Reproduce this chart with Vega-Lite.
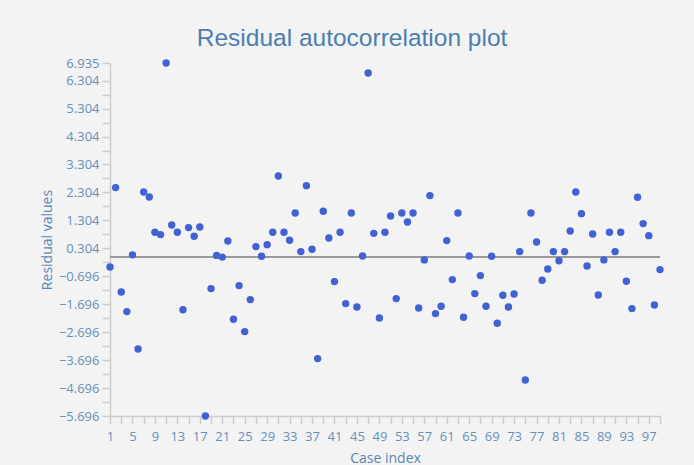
{
  "$schema": "https://vega.github.io/schema/vega-lite/v6.json",
  "autosize": "none",
  "width": 550,
  "height": 353,
  "padding": {"left": 110, "top": 63, "right": 34, "bottom": 49},
  "background": "#f3f3f3",
  "title": {
    "text": "Residual autocorrelation plot",
    "font": "Liberation Sans",
    "fontSize": 24.5,
    "fontWeight": "normal",
    "color": "#4a7fb0",
    "anchor": "middle",
    "frame": "bounds",
    "offset": 6
  },
  "config": {
    "view": {"stroke": null},
    "axis": {
      "labelFont": "Open Sans",
      "labelFontSize": 13,
      "labelColor": "#6690b8",
      "titleFont": "Open Sans",
      "titleFontSize": 14,
      "titleFontWeight": "normal",
      "titleColor": "#5a88b4",
      "domainColor": "#cccccc",
      "domainWidth": 1.5,
      "tickColor": "#cccccc",
      "tickWidth": 1.5,
      "tickSize": 8,
      "grid": false,
      "labelOverlap": false
    }
  },
  "resolve": {"axis": {"y": "independent"}},
  "data": {
    "values": [
      {"idx": 1, "res": -0.365}, {"idx": 2, "res": 2.476}, {"idx": 3, "res": -1.259}, {"idx": 4, "res": -1.961},
      {"idx": 5, "res": 0.07}, {"idx": 6, "res": -3.299}, {"idx": 7, "res": 2.318}, {"idx": 8, "res": 2.14},
      {"idx": 9, "res": 0.876}, {"idx": 10, "res": 0.794}, {"idx": 11, "res": 6.935}, {"idx": 12, "res": 1.137},
      {"idx": 13, "res": 0.876}, {"idx": 14, "res": -1.892}, {"idx": 15, "res": 1.045}, {"idx": 16, "res": 0.733},
      {"idx": 17, "res": 1.066}, {"idx": 18, "res": -5.696}, {"idx": 19, "res": -1.138}, {"idx": 20, "res": 0.05},
      {"idx": 21, "res": -0.01}, {"idx": 22, "res": 0.565}, {"idx": 23, "res": -2.236}, {"idx": 24, "res": -1.03},
      {"idx": 25, "res": -2.676}, {"idx": 26, "res": -1.531}, {"idx": 27, "res": 0.365}, {"idx": 28, "res": 0.02},
      {"idx": 29, "res": 0.436}, {"idx": 30, "res": 0.876}, {"idx": 31, "res": 2.891}, {"idx": 32, "res": 0.876},
      {"idx": 33, "res": 0.59}, {"idx": 34, "res": 1.567}, {"idx": 35, "res": 0.186}, {"idx": 36, "res": 2.547},
      {"idx": 37, "res": 0.27}, {"idx": 38, "res": -3.643}, {"idx": 39, "res": 1.628}, {"idx": 40, "res": 0.673},
      {"idx": 41, "res": -0.887}, {"idx": 42, "res": 0.876}, {"idx": 43, "res": -1.675}, {"idx": 44, "res": 1.567},
      {"idx": 45, "res": -1.796}, {"idx": 46, "res": 0.03}, {"idx": 47, "res": 6.576}, {"idx": 48, "res": 0.84},
      {"idx": 49, "res": -2.19}, {"idx": 50, "res": 0.876}, {"idx": 51, "res": 1.46}, {"idx": 52, "res": -1.496},
      {"idx": 53, "res": 1.567}, {"idx": 54, "res": 1.245}, {"idx": 55, "res": 1.567}, {"idx": 56, "res": -1.832},
      {"idx": 57, "res": -0.11}, {"idx": 58, "res": 2.19}, {"idx": 59, "res": -2.032}, {"idx": 60, "res": -1.77},
      {"idx": 61, "res": 0.58}, {"idx": 62, "res": -0.816}, {"idx": 63, "res": 1.567}, {"idx": 64, "res": -2.165},
      {"idx": 65, "res": 0.03}, {"idx": 66, "res": -1.317}, {"idx": 67, "res": -0.673}, {"idx": 68, "res": -1.77},
      {"idx": 69, "res": 0.02}, {"idx": 70, "res": -2.38}, {"idx": 71, "res": -1.378}, {"idx": 72, "res": -1.796},
      {"idx": 73, "res": -1.331}, {"idx": 74, "res": 0.186}, {"idx": 75, "res": -4.408}, {"idx": 76, "res": 1.567},
      {"idx": 77, "res": 0.53}, {"idx": 78, "res": -0.84}, {"idx": 79, "res": -0.436}, {"idx": 80, "res": 0.186},
      {"idx": 81, "res": -0.14}, {"idx": 82, "res": 0.186}, {"idx": 83, "res": 0.923}, {"idx": 84, "res": 2.318},
      {"idx": 85, "res": 1.545}, {"idx": 86, "res": -0.329}, {"idx": 87, "res": 0.816}, {"idx": 88, "res": -1.367},
      {"idx": 89, "res": -0.11}, {"idx": 90, "res": 0.876}, {"idx": 91, "res": 0.186}, {"idx": 92, "res": 0.876},
      {"idx": 93, "res": -0.877}, {"idx": 94, "res": -1.853}, {"idx": 95, "res": 2.129}, {"idx": 96, "res": 1.188},
      {"idx": 97, "res": 0.758}, {"idx": 98, "res": -1.725}, {"idx": 99, "res": -0.458}
    ]
  },
  "layer": [
    {
      "mark": {"type": "rule", "color": "#999999", "strokeWidth": 1.5},
      "encoding": {"y": {"datum": 0, "type": "quantitative", "axis": null}}
    },
    {
      "mark": {"type": "point", "filled": true, "color": "#4262d4", "opacity": 1, "size": 55},
      "encoding": {
        "x": {
          "field": "idx",
          "type": "quantitative",
          "title": "Case index",
          "scale": {"domain": [1, 99], "nice": false, "zero": false},
          "axis": {
            "values": [1,3,5,7,9,11,13,15,17,19,21,23,25,27,29,31,33,35,37,39,41,43,45,47,49,51,53,55,57,59,61,63,65,67,69,71,73,75,77,79,81,83,85,87,89,91,93,95,97,99],
            "labelExpr": "(datum.value - 1) % 4 == 0 ? datum.label : ''",
            "labelOverlap": false,
            "labelFlush": false,
            "labelBound": false,
            "labelPadding": 6,
            "titlePadding": 8
          }
        },
        "y": {
          "field": "res",
          "type": "quantitative",
          "title": "Residual values",
          "scale": {"domain": [-5.696, 6.935], "nice": false, "zero": false},
          "axis": {
            "values": [-5.696,-5.196,-4.696,-4.196,-3.696,-3.196,-2.696,-2.196,-1.696,-1.196,-0.696,-0.196,0.304,0.804,1.304,1.804,2.304,2.804,3.304,3.804,4.304,4.804,5.304,5.804,6.304,6.935],
            "labelExpr": "(abs(datum.value + 5.696 - round(datum.value + 5.696)) < 0.01 || datum.value > 6.9) ? format(datum.value, '.3f') : ''",
            "labelOverlap": false,
            "labelFlush": false,
            "labelBound": false,
            "labelPadding": 3,
            "titlePadding": 4
          }
        }
      }
    }
  ]
}
